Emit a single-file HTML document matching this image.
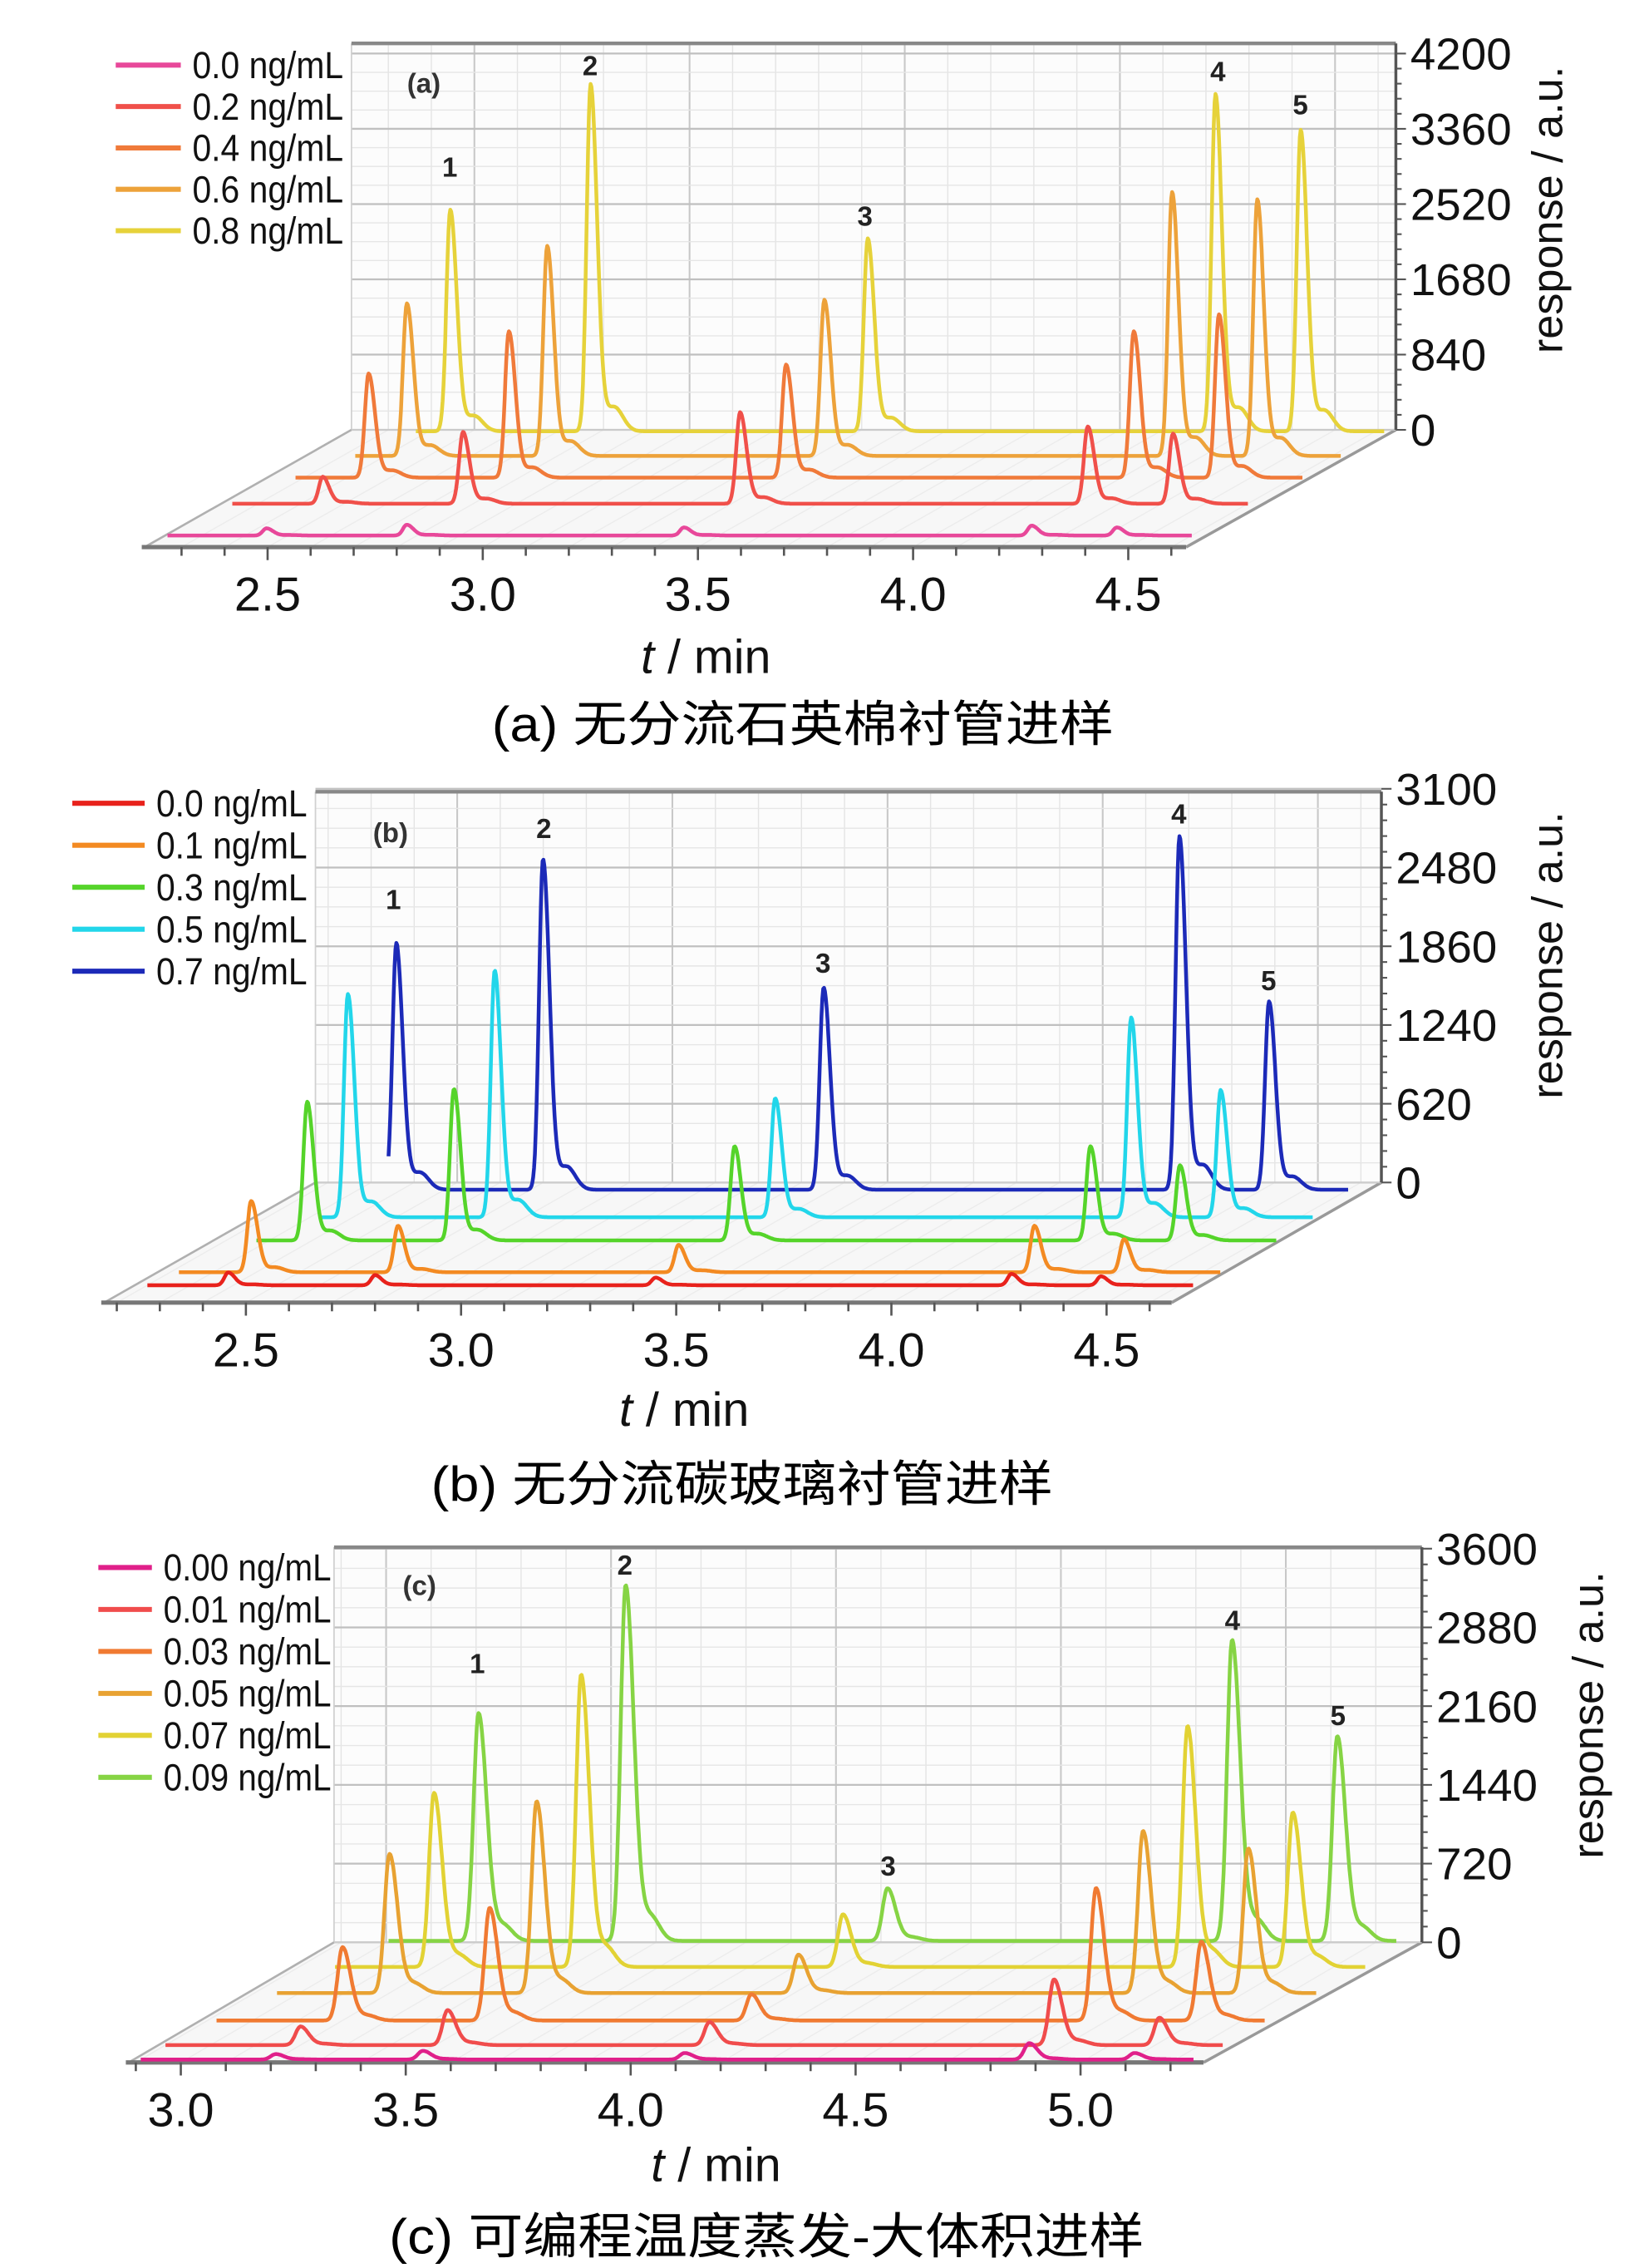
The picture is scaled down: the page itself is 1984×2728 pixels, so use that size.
<!DOCTYPE html>
<html><head><meta charset="utf-8"><style>
html,body{margin:0;padding:0;background:#fff;}
svg{display:block;}
text{font-family:"Liberation Sans","Noto Sans CJK SC",sans-serif;}
</style></head><body>
<svg id="fig" xmlns="http://www.w3.org/2000/svg" width="1984" height="2728" viewBox="0 0 1140 1567" preserveAspectRatio="none">
<rect x="0" y="0" width="1140" height="1567" fill="#fff"/>
<text x="555" y="512" font-size="34" text-anchor="middle" textLength="430" lengthAdjust="spacingAndGlyphs">(a) 无分流石英棉衬管进样</text>
<text x="513" y="1037" font-size="34" text-anchor="middle" textLength="430" lengthAdjust="spacingAndGlyphs">(b) 无分流碳玻璃衬管进样</text>
<text x="530" y="1557" font-size="34" text-anchor="middle" textLength="522" lengthAdjust="spacingAndGlyphs">(c) 可编程温度蒸发-大体积进样</text>
</svg>
<script>
// ---------- data: panel (a) ----------
const aPeakTimes = [2.45, 2.776, 3.42, 4.228, 4.426];
const aConc = ["0.0 ng/mL","0.2 ng/mL","0.4 ng/mL","0.6 ng/mL","0.8 ng/mL"];
const aH0 = [80, 120, 90, 110, 90];
const aH1 = [300, 800, 1020, 860, 780];
const aH2 = [1160, 1630, 1260, 1630, 1820];
const aH3 = [1700, 2340, 1740, 2940, 2860];
const aH4 = [2470, 3870, 2150, 3760, 3360];
const aYTicks = [0, 840, 1680, 2520, 3360, 4200];
const aXTicks = [2.5, 3.0, 3.5, 4.0, 4.5];
// ---------- data: panel (b) ----------
const bPeakTimes = [2.388, 2.729, 3.381, 4.208, 4.416];
const bConc = ["0.0 ng/mL","0.1 ng/mL","0.3 ng/mL","0.5 ng/mL","0.7 ng/mL"];
const bH0 = [100, 80, 60, 90, 70];
const bH1 = [560, 365, 215, 365, 260];
const bH2 = [1090, 1190, 740, 740, 590];
const bH3 = [1755, 1940, 935, 1570, 1000];
const bH4 = [1940, 2600, 1590, 2780, 1480];
const bYTicks = [0, 620, 1240, 1860, 2480, 3100];
const bXTicks = [2.5, 3.0, 3.5, 4.0, 4.5];
// ---------- data: panel (c) ----------
const cPeakTimes = [3.2, 3.527, 4.109, 4.875, 5.109];
const cConc = ["0.00 ng/mL","0.01 ng/mL","0.03 ng/mL","0.05 ng/mL","0.07 ng/mL","0.09 ng/mL"];
const cH0 = [50, 80, 60, 150, 60];
const cH1 = [170, 320, 210, 600, 250];
const cH2 = [670, 1030, 240, 1210, 720];
const cH3 = [1270, 1750, 350, 1480, 1320];
const cH4 = [1590, 2670, 480, 2200, 1410];
const cH5 = [2080, 3250, 480, 2750, 1870];
const cYTicks = [0, 720, 1440, 2160, 2880, 3600];
const cXTicks = [3.0, 3.5, 4.0, 4.5, 5.0];

const NS = "http://www.w3.org/2000/svg";
const svg = document.getElementById("fig");
function mk(tag, attrs, parent) {
  const e = document.createElementNS(NS, tag);
  for (const k in attrs) e.setAttribute(k, attrs[k]);
  (parent || svg).appendChild(e);
  return e;
}

const panels = [
  {id:"a", label:"(a)", times:aPeakTimes, conc:aConc, heights:[aH0,aH1,aH2,aH3,aH4], yTicks:aYTicks, xTicks:aXTicks,
   colors:["#e8489a","#f0504a","#f07a3a","#eda23a","#e6d23a"], sL:0.009, sR:0.015,
   x0:185, xPerMin:297.5, t0:2.5, yf:378, yb:297, xFront0:100, xFront1:820, xR:965, yTop:37, wallTop:30, ratio:1.765,
   dys:[8,30,48,63,80], tStart:[2.22,2.24,2.28,2.33,2.37], tEnd:[4.6,4.6,4.62,4.62,4.62],
   legX:80, legY:45, legDy:28.6, legW:45, ytitleX:1070, ytitleY:145, tminX:488, tminY:465,
   peakLab:[[311,122],[408,52],[598,156],[842,56],[899,79]], panLab:[293,64]},
  {id:"b", label:"(b)", times:bPeakTimes, conc:bConc, heights:[bH0,bH1,bH2,bH3,bH4], yTicks:bYTicks, xTicks:bXTicks,
   colors:["#e8221c","#f38a22","#55d42a","#22d6ea","#1c2ab8"], sL:0.009, sR:0.015,
   x0:170, xPerMin:297.5, t0:2.5, yf:900, yb:817, xFront0:72, xFront1:810, xR:955, yTop:545, wallTop:547, ratio:1.76,
   dys:[12,21,43,59,78], tStart:[2.2,2.22,2.27,2.32,2.37], tEnd:[4.63,4.64,4.64,4.63,4.6],
   legX:50, legY:555, legDy:29, legW:50, ytitleX:1070, ytitleY:660, tminX:473, tminY:985,
   peakLab:[[272,628],[376,579],[569,672],[815,569],[877,684]], panLab:[270,582]},
  {id:"c", label:"(c)", times:cPeakTimes, conc:cConc, heights:[cH0,cH1,cH2,cH3,cH4,cH5], yTicks:cYTicks, xTicks:cXTicks,
   colors:["#e0208a","#f04c4c","#f07a32","#e8a232","#e2d234","#86d444"], sL:0.011, sR:0.018,
   x0:125, xPerMin:311, t0:3.0, yf:1425, yb:1342, xFront0:89, xFront1:832, xR:983, yTop:1070, wallTop:1069, ratio:1.71,
   dys:[2,12,29,48,66,84], tStart:[2.9,2.9,2.92,2.95,2.98,3.0], tEnd:[5.24,5.25,5.25,5.26,5.27,5.24],
   legX:68, legY:1083, legDy:29, legW:37, ytitleX:1098, ytitleY:1185, tminX:495, tminY:1507,
   peakLab:[[330,1156],[432,1088],[614,1296],[852,1126],[925,1192]], panLab:[290,1102]}
];

panels.forEach(P => {
  const g = mk("g", {});
  
  
  const X = t => P.x0 + (t - P.t0) * P.xPerMin;
  const depth = P.yf - P.yb;
  const wallL = P.xFront0 + depth * P.ratio;
  const ymax = P.yTicks[P.yTicks.length - 1];
  const ys = (P.yb - P.yTop) / ymax;
  const Y = v => P.yb - v * ys;

  const floor = mk("polygon", {points:`${P.xFront0},${P.yf} ${P.xFront1},${P.yf} ${P.xR},${P.yb} ${wallL},${P.yb}`, fill:"#f7f7f7", stroke:"none"}, g);
  
  
  const wall = mk("rect", {x:wallL, y:P.wallTop, width:P.xR - wallL, height:P.yb - P.wallTop, fill:"#fcfcfc"}, g);
  
  
  const wallOff = depth * P.ratio;
  for (let t = Math.ceil((P.xFront0 - P.x0) / P.xPerMin * 10 + P.t0 * 10) / 10; ; t += 0.1) {
    const x = X(t) + wallOff;
    if (x > P.xR - 2) break;
    if (x < wallL + 2) continue;
    const major = Math.abs(t * 2 - Math.round(t * 2)) < 0.01;
    mk("line", {x1:x, y1:P.wallTop, x2:x, y2:P.yb, stroke: major ? "#c8c8c8" : "#e4e4e4", "stroke-width": major ? 1.2 : 0.8}, g);
    mk("line", {x1:X(t), y1:P.yf, x2:x, y2:P.yb, stroke:"#ececec", "stroke-width":0.8}, g);
  }
  const step = P.yTicks[1] - P.yTicks[0];
  for (let v = 0; v <= ymax + 1; v += step / 4) {
    const major = Math.abs(v / step - Math.round(v / step)) < 0.01;
    mk("line", {x1:wallL, y1:Y(v), x2:P.xR, y2:Y(v), stroke: major ? "#c0c0c0" : "#e6e6e6", "stroke-width": major ? 1.3 : 0.8}, g);
  }
  mk("line", {x1:wallL, y1:P.wallTop, x2:wallL, y2:P.yb, stroke:"#d0d0d0", "stroke-width":1}, g);
  mk("line", {x1:wallL, y1:P.wallTop, x2:P.xR, y2:P.wallTop, stroke:"#888", "stroke-width":2.5}, g);
  mk("line", {x1:P.xFront0, y1:P.yf, x2:wallL, y2:P.yb, stroke:"#b0b0b0", "stroke-width":1.5}, g);
  mk("line", {x1:P.xFront1, y1:P.yf, x2:P.xR, y2:P.yb, stroke:"#999", "stroke-width":2}, g);
  mk("line", {x1:wallL, y1:P.yb, x2:P.xR, y2:P.yb, stroke:"#ccc", "stroke-width":1}, g);

  const ax = mk("line", {x1:P.xR, y1:P.wallTop, x2:P.xR, y2:P.yb, stroke:"#555", "stroke-width":2}, g);
  
  
  for (let v = 0; v <= ymax + 1; v += step / 5) {
    const major = Math.abs(v / step - Math.round(v / step)) < 0.01;
    mk("line", {x1:P.xR, y1:Y(v), x2:P.xR + (major ? 7 : 4), y2:Y(v), stroke:"#555", "stroke-width":1.2}, g);
  }
  P.yTicks.forEach(v => {
    const s = String(v);
    const tx = mk("text", {x:P.xR + 10, y:Y(v) + 11, "font-size":31, textLength: s.length * 17.5, lengthAdjust:"spacingAndGlyphs", fill:"#111"}, g);
    tx.textContent = s;
    
    
  });
  const yt = mk("text", {x:P.ytitleX, y:P.ytitleY, "font-size":30, "text-anchor":"middle", transform:`rotate(-90 ${P.ytitleX} ${P.ytitleY})`, dy:10, fill:"#111"}, g);
  yt.textContent = "response / a.u.";
  
  

  const xa = mk("line", {x1:P.xFront0 - 2, y1:P.yf, x2:P.xFront1, y2:P.yf, stroke:"#777", "stroke-width":3}, g);
  
  
  for (let t = Math.ceil(((P.xFront0 - P.x0) / P.xPerMin + P.t0) * 10) / 10; X(t) <= P.xFront1; t += 0.1) {
    const major = Math.abs(t * 2 - Math.round(t * 2)) < 0.01;
    mk("line", {x1:X(t), y1:P.yf, x2:X(t), y2:P.yf + (major ? 9 : 6), stroke:"#555", "stroke-width":1.5}, g);
  }
  P.xTicks.forEach(t => {
    const tx = mk("text", {x:X(t), y:P.yf + 44, "font-size":33, "text-anchor":"middle", textLength:46, lengthAdjust:"spacingAndGlyphs", fill:"#111"}, g);
    tx.textContent = t.toFixed(1);
    
    
  });
  const xt = mk("text", {x:P.tminX, y:P.tminY, "font-size":33, "text-anchor":"middle", fill:"#111"}, g);
  xt.innerHTML = '<tspan font-style="italic">t</tspan> / min';
  
  

  for (let k = P.heights.length - 1; k >= 0; k--) {
    const dy = P.dys[k], dx = dy * P.ratio, base = P.yf - dy;
    const hs = P.heights[k];
    let d = "";
    for (let t = P.tStart[k]; t <= P.tEnd[k]; t += 0.002) {
      let v = 0;
      P.times.forEach((tp, i) => {
        const s = t < tp ? P.sL : P.sR;
        v += hs[i] * Math.exp(-0.5 * Math.pow((t - tp) / s, 2));
        v += hs[i] * 0.07 * Math.exp(-0.5 * Math.pow((t - tp - 0.055) / 0.02, 2));
      });
      const x = X(t) + dx, y = base - v * ys;
      d += (d ? "L" : "M") + x.toFixed(1) + "," + y.toFixed(1);
    }
    const p = mk("path", {d:d, fill:"none", stroke:P.colors[k], "stroke-width":2.6, "stroke-linejoin":"round"}, g);
    
    
  }

  P.peakLab.forEach((pl, i) => {
    const tx = mk("text", {x:pl[0], y:pl[1], "font-size":19, "font-weight":"bold", "text-anchor":"middle", fill:"#222"}, g);
    tx.textContent = String(i + 1);
    
    
  });
  const pnl = mk("text", {x:P.panLab[0], y:P.panLab[1], "font-size":19, "font-weight":"bold", "text-anchor":"middle", fill:"#333"}, g);
  pnl.textContent = P.label;
  
  

  P.conc.forEach((c, k) => {
    const y = P.legY + k * P.legDy;
    const ln = mk("line", {x1:P.legX, y1:y, x2:P.legX + P.legW, y2:y, stroke:P.colors[k], "stroke-width":3.5}, g);
    
    
    const tx = mk("text", {x:P.legX + P.legW + 8, y:y + 9, "font-size":26, textLength: c.length * 11.6, lengthAdjust:"spacingAndGlyphs", fill:"#111"}, g);
    tx.textContent = c;
    
    
  });
});
</script>
</body></html>
